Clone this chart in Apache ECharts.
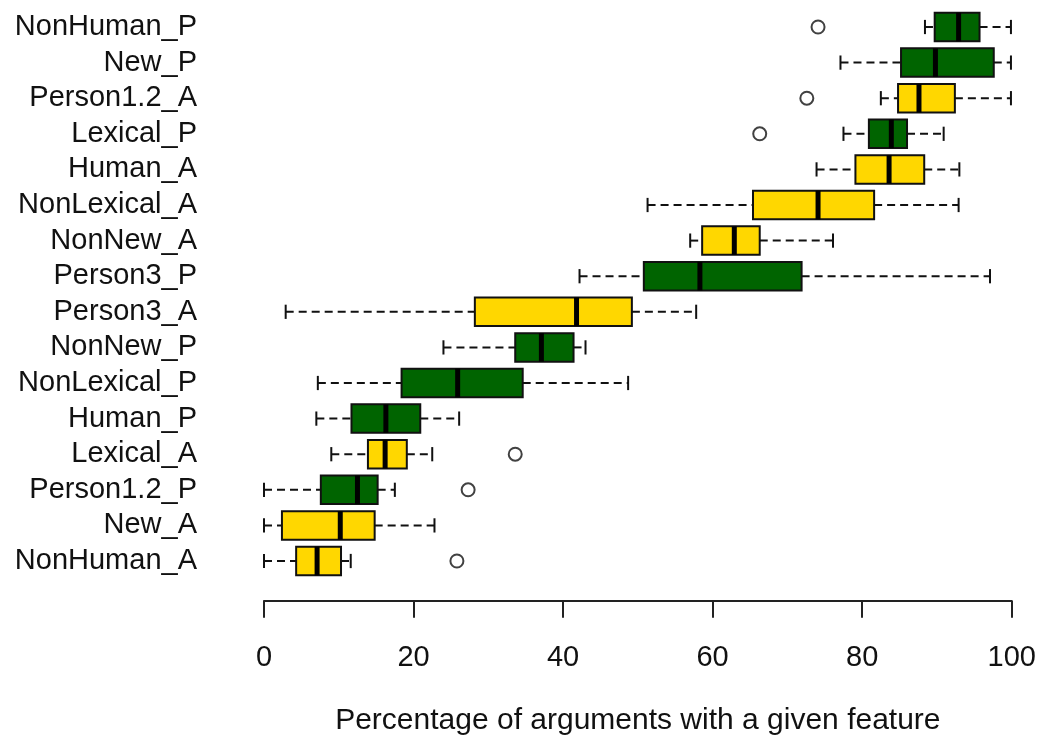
<!DOCTYPE html>
<html>
<head>
<meta charset="utf-8">
<title>Percentage of arguments with a given feature</title>
<script src="https://cdn.jsdelivr.net/npm/echarts@6/dist/echarts.min.js"></script>
<style>
  html, body { margin: 0; padding: 0; background: #ffffff; }
  #chart { width: 1040px; height: 745px; }
</style>
</head>
<body>
<div id="chart"></div>
<script>
// Features, listed top to bottom
const categories = [
  'NonHuman_P', 'New_P', 'Person1.2_A', 'Lexical_P', 'Human_A', 'NonLexical_A',
  'NonNew_A', 'Person3_P', 'Person3_A', 'NonNew_P', 'NonLexical_P', 'Human_P',
  'Lexical_A', 'Person1.2_P', 'New_A', 'NonHuman_A'
];

// Five-number summaries (whisker ends, quartiles, median), in percent
const whiskerLow    = [88.4, 77.1, 82.5, 77.5, 73.9, 51.3, 57.0, 42.2,  2.9, 24.0,  7.2,  7.0,  9.0,  0.0,  0.0,  0.0];
const lowerQuartile = [89.7, 85.2, 84.8, 80.9, 79.1, 65.4, 58.6, 50.8, 28.2, 33.6, 18.4, 11.7, 13.9,  7.6,  2.4,  4.3];
const medians       = [92.9, 89.8, 87.6, 83.9, 83.6, 74.1, 62.9, 58.3, 41.8, 37.1, 25.9, 16.3, 16.2, 12.5, 10.2,  7.1];
const upperQuartile = [95.7, 97.6, 92.4, 86.0, 88.3, 81.6, 66.3, 71.9, 49.2, 41.4, 34.6, 20.9, 19.1, 15.2, 14.8, 10.3];
const whiskerHigh   = [99.9, 99.9, 99.9, 90.9, 93.0, 92.9, 76.1, 97.1, 57.8, 43.0, 48.7, 26.1, 22.5, 17.5, 22.8, 11.6];

// Outlying points: [feature, value]
const outlierFeatures = ['NonHuman_P', 'Person1.2_A', 'Lexical_P', 'Lexical_A', 'Person1.2_P', 'NonHuman_A'];
const outlierValues   = [74.1, 72.6, 66.3, 33.6, 27.3, 25.8];

// Axis ticks
const tickValues = [0, 20, 40, 60, 80, 100];

// Fill by argument role: _P (green) and _A (yellow)
const roleColors = { P: '#006400', A: '#FFD700' };

const FONT = '"Liberation Sans", Arial, Helvetica, sans-serif';
const LINE_W = 2;

const boxData = categories.map((c, i) => [
  i, whiskerLow[i], lowerQuartile[i], medians[i], upperQuartile[i], whiskerHigh[i]
]);
const outlierData = outlierFeatures.map((c, i) => [outlierValues[i], categories.indexOf(c)]);

function renderBox(params, api) {
  const idx = api.value(0);
  const name = categories[idx];
  const fill = roleColors[name.slice(-1)];
  const yc = api.coord([0, idx])[1];
  const band = api.size([0, 1])[1];
  const h = band * 0.8;
  const cap = h / 2;
  const x = k => api.coord([api.value(k), idx])[0];
  const xLo = x(1), xQ1 = x(2), xMed = x(3), xQ3 = x(4), xHi = x(5);
  const dashStyle = { stroke: '#111', lineWidth: LINE_W, lineDash: [8, 5] };
  const solid = { stroke: '#111', lineWidth: LINE_W };
  return {
    type: 'group',
    children: [
      { type: 'line', shape: { x1: xLo, y1: yc, x2: xQ1, y2: yc }, style: dashStyle },
      { type: 'line', shape: { x1: xQ3, y1: yc, x2: xHi, y2: yc }, style: dashStyle },
      { type: 'line', shape: { x1: xLo, y1: yc - cap / 2, x2: xLo, y2: yc + cap / 2 }, style: solid },
      { type: 'line', shape: { x1: xHi, y1: yc - cap / 2, x2: xHi, y2: yc + cap / 2 }, style: solid },
      { type: 'rect', shape: { x: xQ1, y: yc - h / 2, width: xQ3 - xQ1, height: h },
        style: { fill: fill, stroke: '#111', lineWidth: LINE_W } },
      { type: 'line', shape: { x1: xMed, y1: yc - h / 2, x2: xMed, y2: yc + h / 2 },
        style: { stroke: '#000', lineWidth: 5 } }
    ]
  };
}

const chart = echarts.init(document.getElementById('chart'), null, { renderer: 'canvas' });
chart.setOption({
  backgroundColor: '#ffffff',
  animation: false,
  grid: { left: 264, right: 28.3, top: 9.2, height: 569.6 },
  xAxis: {
    type: 'value',
    min: tickValues[0],
    max: tickValues[tickValues.length - 1],
    interval: 20,
    offset: 22,
    name: 'Percentage of arguments with a given feature',
    nameLocation: 'middle',
    nameGap: 105,
    nameTextStyle: { fontFamily: FONT, fontSize: 30, color: '#111' },
    axisLine: { show: true, lineStyle: { color: '#222', width: LINE_W } },
    axisTick: { show: true, length: 17, lineStyle: { color: '#222', width: LINE_W } },
    axisLabel: { fontFamily: FONT, fontSize: 29, color: '#111', margin: 43 },
    splitLine: { show: false }
  },
  yAxis: {
    type: 'category',
    data: categories,
    inverse: true,
    axisLine: { show: false },
    axisTick: { show: false },
    axisLabel: {
      fontFamily: FONT, fontSize: 29, color: '#111', margin: 67,
      interval: 0, hideOverlap: false, lineHeight: 30
    },
    splitLine: { show: false }
  },
  series: [
    {
      type: 'custom',
      renderItem: renderBox,
      data: boxData,
      encode: { x: [1, 2, 3, 4, 5], y: 0 },
      z: 2
    },
    {
      type: 'scatter',
      data: outlierData,
      symbol: 'circle',
      symbolSize: 13,
      itemStyle: { color: '#ffffff', borderColor: '#111', borderWidth: 2 },
      z: 3
    }
  ]
});
</script>
</body>
</html>
